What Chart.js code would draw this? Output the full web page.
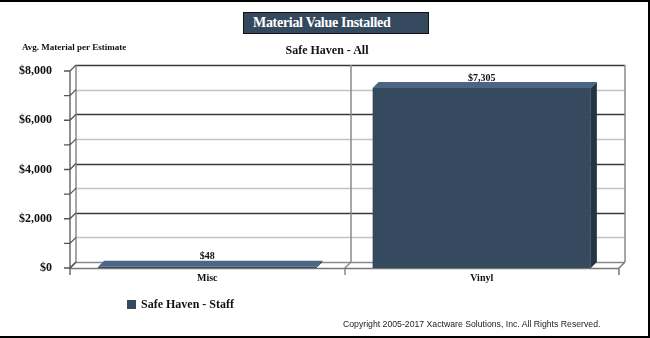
<!DOCTYPE html>
<html>
<head>
<meta charset="utf-8">
<script src="https://cdn.jsdelivr.net/npm/chart.js@4"></script>
<style>
  html, body { margin: 0; padding: 0; background: #fff; }
  #wrap { position: relative; width: 650px; height: 338px; overflow: hidden; font-family: "Times New Roman", "Liberation Serif", serif; }
  #frame { position: absolute; left: 0; top: 0; border-top: 2px solid #000; border-right: 2px solid #000; border-bottom: 2px solid #000; box-sizing: border-box; width: 650px; height: 338px; pointer-events: none; }
  canvas { position: absolute; left: 0; top: 0; }
  .title { position: absolute; left: 243px; top: 12px; width: 186px; height: 22px; box-sizing: border-box; background: #34495e; border: 1px solid #111; color: #fff; font-weight: bold; font-size: 14px; letter-spacing: -0.3px; line-height: 20px; padding-left: 9px; white-space: nowrap; }
  .sub { position: absolute; left: 0; width: 654px; top: 43px; text-align: center; font-weight: bold; font-size: 12px; color: #111; }
  .ylab { position: absolute; left: 22px; top: 42px; font-weight: bold; font-size: 9px; color: #111; white-space: nowrap; }
  .legend { position: absolute; left: 127px; top: 297px; font-weight: bold; font-size: 12px; color: #111; white-space: nowrap; }
  .legend i { display: inline-block; width: 9px; height: 9px; background: #34495e; margin-right: 5px; vertical-align: -1px; }
  .copy { position: absolute; left: 343px; top: 319px; font-family: Arial, "Liberation Sans", sans-serif; font-size: 8.7px; color: #222; white-space: nowrap; }
</style>
</head>
<body>
<div id="wrap">
  <canvas id="chart" width="650" height="338"></canvas>
  <div class="title">Material Value Installed</div>
  <div class="ylab">Avg. Material per Estimate</div>
  <div class="sub">Safe Haven - All</div>
  <div class="legend"><i></i>Safe Haven - Staff</div>
  <div class="copy">Copyright 2005-2017 Xactware Solutions, Inc. All Rights Reserved.</div>
  <div id="frame"></div>
</div>
<script>
const categories = ['Misc', 'Vinyl'];
const staffValues = [48, 7305];
const yMax = 8000;
const labelStep = 2000;
const gridStep = 1000;

// 3d depth offset of the back wall
const DX = 6, DY = 6;

const money = v => '$' + v.toLocaleString('en-US');

const wall3d = {
  id: 'wall3d',
  beforeDatasetsDraw(chart) {
    const ctx = chart.ctx;
    const { left, right, top, bottom } = chart.chartArea;
    const y = chart.scales.y, x = chart.scales.x;
    ctx.save();
    // back wall grid lines
    for (let v = 0; v <= yMax; v += gridStep) {
      const py = Math.round(y.getPixelForValue(v) - DY) + 0.5;
      ctx.beginPath();
      ctx.strokeStyle = v === 0 ? '#8a8a8a' : (v % labelStep === 0 ? '#3a3a3a' : '#c4c4c4');
      ctx.lineWidth = v % labelStep === 0 && v !== 0 ? 1.3 : 1.5;
      ctx.moveTo(left + DX, py);
      ctx.lineTo(right + DX, py);
      ctx.stroke();
    }
    // wall edges
    ctx.strokeStyle = '#8a8a8a';
    ctx.lineWidth = 1.5;
    [left + DX, right + DX].forEach(px => {
      ctx.beginPath();
      ctx.moveTo(px, top - DY);
      ctx.lineTo(px, bottom - DY);
      ctx.stroke();
    });
    // category dividers
    for (let i = 1; i < categories.length; i++) {
      const xb = Math.round(x.getPixelForValue(i - 0.5));
      ctx.beginPath();
      ctx.moveTo(xb + DX, top - DY);
      ctx.lineTo(xb + DX, bottom - DY);
      ctx.lineTo(xb, bottom);
      ctx.lineTo(xb, bottom + 7);
      ctx.stroke();
    }
    // floor front edge
    ctx.beginPath();
    ctx.strokeStyle = '#777';
    ctx.moveTo(left, bottom + 0.5);
    ctx.lineTo(right, bottom + 0.5);
    ctx.moveTo(right, bottom + 7);
    ctx.lineTo(right, bottom);
    ctx.lineTo(right + DX, bottom - DY);
    ctx.moveTo(left, bottom);
    ctx.lineTo(left + DX, bottom - DY);
    ctx.stroke();
    // left axis with ticks
    ctx.beginPath();
    ctx.strokeStyle = '#555';
    ctx.lineWidth = 1.3;
    ctx.moveTo(left, top);
    ctx.lineTo(left, bottom + 7);
    for (let v = 0; v <= yMax; v += gridStep) {
      const py = y.getPixelForValue(v);
      ctx.moveTo(left - 6, py);
      ctx.lineTo(left, py);
      ctx.lineTo(left + DX, py - DY);
    }
    ctx.stroke();
    ctx.restore();
  },
  afterDatasetsDraw(chart) {
    const ctx = chart.ctx;
    const meta = chart.getDatasetMeta(0);
    ctx.save();
    meta.data.forEach((bar, i) => {
      const { x, y, base, width } = bar.getProps(['x', 'y', 'base', 'width'], true);
      const l = x - width / 2, r = x + width / 2;
      // top face
      ctx.fillStyle = '#4a6684';
      ctx.beginPath();
      ctx.moveTo(l, y);
      ctx.lineTo(l + DX, y - DY);
      ctx.lineTo(r + DX, y - DY);
      ctx.lineTo(r, y);
      ctx.closePath();
      ctx.fill();
      // side face
      ctx.fillStyle = '#243444';
      ctx.beginPath();
      ctx.moveTo(r, y);
      ctx.lineTo(r + DX, y - DY);
      ctx.lineTo(r + DX, base - DY);
      ctx.lineTo(r, base);
      ctx.closePath();
      ctx.fill();
      // value label
      ctx.fillStyle = '#111';
      ctx.font = 'bold 10px "Times New Roman", "Liberation Serif", serif';
      ctx.textAlign = 'center';
      ctx.textBaseline = 'bottom';
      ctx.fillText(money(staffValues[i]), x, y - DY + 1);
    });
    ctx.restore();
  }
};

new Chart(document.getElementById('chart'), {
  type: 'bar',
  data: {
    labels: categories,
    datasets: [{
      label: 'Safe Haven - Staff',
      data: staffValues,
      backgroundColor: '#354a5f',
      borderWidth: 0,
      barPercentage: 0.795,
      categoryPercentage: 1
    }]
  },
  options: {
    responsive: false,
    animation: false,
    devicePixelRatio: 1,
    layout: { padding: { top: 71, right: 31, bottom: 50, left: 0 } },
    plugins: { legend: { display: false }, tooltip: { enabled: false } },
    scales: {
      x: {
        grid: { display: false, drawTicks: false },
        border: { display: false },
        ticks: { color: '#111', padding: 4, font: { family: '"Times New Roman", "Liberation Serif", serif', size: 10, weight: 'bold' } },
        afterFit(scale) { scale.height = 20; }
      },
      y: {
        min: 0,
        max: yMax,
        grid: { display: false, drawTicks: false },
        border: { display: false },
        ticks: {
          stepSize: labelStep,
          padding: 18,
          color: '#111',
          font: { family: '"Times New Roman", "Liberation Serif", serif', size: 12, weight: 'bold' },
          callback: v => money(v)
        },
        afterFit(scale) { scale.width = 70; }
      }
    }
  },
  plugins: [wall3d]
});
</script>
</body>
</html>
